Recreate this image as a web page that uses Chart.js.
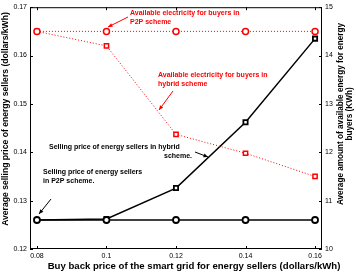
<!DOCTYPE html>
<html>
<head>
<meta charset="utf-8">
<script src="https://cdn.jsdelivr.net/npm/chart.js@4.4.1/dist/chart.umd.min.js"></script>
<style>
  html, body { margin: 0; padding: 0; background: #fff; }
  #wrap { width: 356px; height: 273px; }
</style>
</head>
<body>
<div id="wrap"><canvas id="chart" width="356" height="273"></canvas></div>
<script>
// buy back price on the x axis
const buyBack = [0.08, 0.1, 0.12, 0.14, 0.16];
// selling price of sellers (left axis, dollars/kWh)
const sellP2P = [0.126, 0.126, 0.126, 0.126, 0.126];
const sellHybrid = [0.126, 0.1262, 0.1326, 0.1462, 0.1635];
// available energy for buyers (right axis, kWh)
const energyP2P = [14.5, 14.5, 14.5, 14.5, 14.5];
const energyHybrid = [14.5, 14.2, 12.37, 11.98, 11.5];

const xTicks = [0.08, 0.1, 0.12, 0.14, 0.16];
const leftTicks = [0.12, 0.13, 0.14, 0.15, 0.16, 0.17];
const rightTicks = [10, 11, 12, 13, 14, 15];

const FONT = 'Liberation Sans, Arial, Helvetica, sans-serif';
const RED = 'rgb(255,0,0)';

function pts(ys) {
  return buyBack.map((x, i) => ({ x: x, y: ys[i] }));
}

// little text notes + arrows, MATLAB style
const notes = [
  { color: RED, lines: ['Available electricity for buyers in', 'P2P scheme'], x: 130, y: 13, arrow: [128, 17, 108, 27] },
  { color: RED, lines: ['Available electricity for buyers in', 'hybrid scheme'], x: 158, y: 75, arrow: [173, 91, 159, 110] },
  { color: '#000', lines: ['Selling price of energy sellers in hybrid'], x: 49, y: 147, arrow: [195, 152, 208, 157] },
  { color: '#000', lines: ['scheme.'], x: 192, y: 156, align: 'right' },
  { color: '#000', lines: ['Selling price of energy sellers', 'in P2P scheme.'], x: 43, y: 172, arrow: [51, 199, 39, 214] }
];

function arrow(ctx, x1, y1, x2, y2, color) {
  ctx.save();
  ctx.strokeStyle = color;
  ctx.fillStyle = color;
  ctx.lineWidth = 1;
  ctx.beginPath();
  ctx.moveTo(x1, y1);
  ctx.lineTo(x2, y2);
  ctx.stroke();
  const a = Math.atan2(y2 - y1, x2 - x1);
  const len = 4.5, w = 2;
  ctx.beginPath();
  ctx.moveTo(x2, y2);
  ctx.lineTo(x2 - len * Math.cos(a) + w * Math.sin(a), y2 - len * Math.sin(a) - w * Math.cos(a));
  ctx.lineTo(x2 - len * Math.cos(a) - w * Math.sin(a), y2 - len * Math.sin(a) + w * Math.cos(a));
  ctx.closePath();
  ctx.fill();
  ctx.restore();
}

const decor = {
  id: 'decor',
  afterDraw(chart) {
    const ctx = chart.ctx;
    const a = chart.chartArea;
    const sx = chart.scales.x, sl = chart.scales.y, sr = chart.scales.y1;
    ctx.save();
    // box
    ctx.strokeStyle = '#000';
    ctx.lineWidth = 1;
    ctx.strokeRect(a.left + 0.5, a.top + 0.5, a.right - a.left - 1, a.bottom - a.top - 1);
    // inward ticks
    ctx.beginPath();
    xTicks.forEach(v => {
      const px = Math.round(sx.getPixelForValue(v)) + 0.5;
      ctx.moveTo(px, a.bottom); ctx.lineTo(px, a.bottom - 3);
      ctx.moveTo(px, a.top); ctx.lineTo(px, a.top + 3);
    });
    leftTicks.forEach(v => {
      const py = Math.round(sl.getPixelForValue(v)) + 0.5;
      ctx.moveTo(a.left, py); ctx.lineTo(a.left + 3, py);
    });
    rightTicks.forEach(v => {
      const py = Math.round(sr.getPixelForValue(v)) + 0.5;
      ctx.moveTo(a.right, py); ctx.lineTo(a.right - 3, py);
    });
    ctx.stroke();

    // axis titles
    ctx.fillStyle = '#000';
    ctx.font = 'bold 9.6px ' + FONT;
    ctx.textAlign = 'center';
    ctx.textBaseline = 'middle';
    ctx.fillText('Buy back price of the smart grid for energy sellers (dollars/kWh)', 194, 266);

    ctx.save();
    ctx.translate(6, 119);
    ctx.rotate(-Math.PI / 2);
    ctx.font = 'bold 8.6px ' + FONT;
    ctx.fillText('Average selling price of energy sellers (dollars/kWh)', 0, 0);
    ctx.restore();

    ctx.save();
    ctx.translate(341, 114);
    ctx.rotate(-Math.PI / 2);
    ctx.font = 'bold 8.2px ' + FONT;
    ctx.fillText('Average amount of available energy for energy', 0, 0);
    ctx.fillText('buyers (KWh)', 0, 9);
    ctx.restore();

    // notes
    ctx.font = 'bold 7px ' + FONT;
    notes.forEach(n => {
      ctx.fillStyle = n.color;
      ctx.textAlign = n.align || 'left';
      n.lines.forEach((t, i) => ctx.fillText(t, n.x, n.y + i * 9));
      if (n.arrow) arrow(ctx, n.arrow[0], n.arrow[1], n.arrow[2], n.arrow[3], n.color);
    });
    ctx.restore();
  }
};

const tickFont = { family: FONT, size: 7 };

new Chart(document.getElementById('chart'), {
  type: 'line',
  data: {
    datasets: [
      {
        label: 'Available electricity, P2P',
        data: pts(energyP2P),
        yAxisID: 'y1',
        borderColor: RED,
        borderWidth: 1,
        borderDash: [1, 2],
        pointStyle: 'circle',
        pointRadius: 3,
        pointBorderWidth: 1.5,
        pointBorderColor: RED,
        pointBackgroundColor: '#fff'
      },
      {
        label: 'Available electricity, hybrid',
        data: pts(energyHybrid),
        yAxisID: 'y1',
        borderColor: RED,
        borderWidth: 1,
        borderDash: [1, 2],
        pointStyle: 'rect',
        pointRadius: 3,
        pointBorderWidth: 1.5,
        pointBorderColor: RED,
        pointBackgroundColor: '#fff'
      },
      {
        label: 'Selling price, P2P',
        data: pts(sellP2P),
        yAxisID: 'y',
        borderColor: '#000',
        borderWidth: 1.5,
        pointStyle: 'circle',
        pointRadius: 3,
        pointBorderWidth: 1.8,
        pointBorderColor: '#000',
        pointBackgroundColor: '#fff'
      },
      {
        label: 'Selling price, hybrid',
        data: pts(sellHybrid),
        yAxisID: 'y',
        borderColor: '#000',
        borderWidth: 1.5,
        pointStyle: 'rect',
        pointRadius: 3,
        pointBorderWidth: 1.8,
        pointBorderColor: '#000',
        pointBackgroundColor: '#fff'
      }
    ]
  },
  options: {
    responsive: false,
    animation: false,
    layout: { padding: { top: 5, left: 0, right: 0, bottom: 0 } },
    plugins: { legend: { display: false }, tooltip: { enabled: false } },
    scales: {
      x: {
        type: 'linear',
        min: 0.078,
        max: 0.162,
        afterBuildTicks: s => { s.ticks = xTicks.map(v => ({ value: v })); },
        afterFit: s => { s.height = 24; },
        grid: { display: false, drawTicks: false },
        border: { display: false },
        ticks: { font: tickFont, color: '#000', padding: 3, maxRotation: 0, callback: v => String(v) }
      },
      y: {
        position: 'left',
        min: 0.12,
        max: 0.17,
        afterBuildTicks: s => { s.ticks = leftTicks.map(v => ({ value: v })); },
        afterFit: s => { s.width = 30; },
        grid: { display: false, drawTicks: false },
        border: { display: false },
        ticks: { font: tickFont, color: '#000', padding: 3, callback: v => String(v) }
      },
      y1: {
        position: 'right',
        min: 10,
        max: 15,
        afterBuildTicks: s => { s.ticks = rightTicks.map(v => ({ value: v })); },
        afterFit: s => { s.width = 34; },
        grid: { display: false, drawTicks: false },
        border: { display: false },
        ticks: { font: tickFont, color: '#000', padding: 3, callback: v => String(v) }
      }
    }
  },
  plugins: [decor]
});
</script>
</body>
</html>
